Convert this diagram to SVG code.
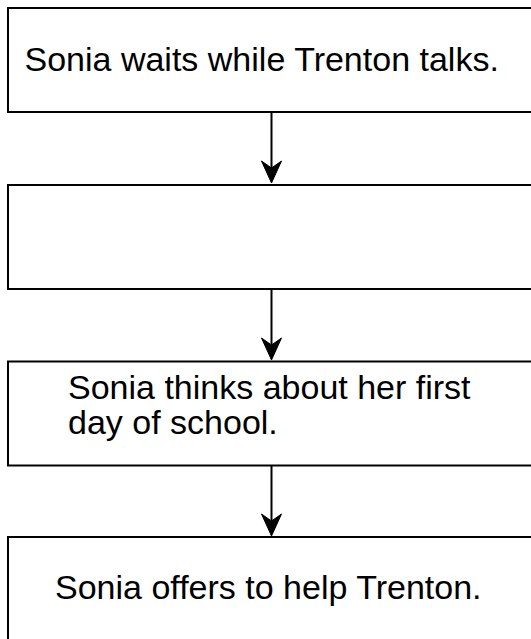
<svg xmlns="http://www.w3.org/2000/svg" width="531" height="639" viewBox="0 0 531 639">
<defs>
<style>
.box{fill:#fff;stroke:#000;stroke-width:2}
.lbl{font-family:"Liberation Sans",Arial,Helvetica,sans-serif;font-size:34px;fill:#000}
.edge{stroke:#000;stroke-width:2;fill:none}
.head{fill:#000;stroke:#000;stroke-width:1}
</style>
</defs>
<rect width="531" height="639" fill="#fff"/>
<g id="node1"><rect class="box" x="8" y="8" width="528" height="104"/><text class="lbl" x="24.5" y="71">Sonia waits while Trenton talks.</text></g>
<g id="node2"><rect class="box" x="8" y="185" width="528" height="104"/></g>
<g id="node3"><rect class="box" x="8" y="361.5" width="528" height="104"/><text class="lbl" x="68" y="399">Sonia thinks about her first</text><text class="lbl" x="68" y="434">day of school.</text></g>
<g id="node4"><rect class="box" x="8" y="537" width="528" height="110"/><text class="lbl" x="55" y="599">Sonia offers to help Trenton.</text></g>
<g id="edges">
<line class="edge" x1="271.5" y1="112" x2="271.5" y2="168"/>
<path class="head" d="M261.5,161 L271.5,168 L281.5,161 L271.5,183 Z"/>
<line class="edge" x1="271.5" y1="289" x2="271.5" y2="345"/>
<path class="head" d="M261.5,338 L271.5,345 L281.5,338 L271.5,360 Z"/>
<line class="edge" x1="271.5" y1="465.5" x2="271.5" y2="521"/>
<path class="head" d="M261.5,514 L271.5,521 L281.5,514 L271.5,536 Z"/>
</g>
</svg>
